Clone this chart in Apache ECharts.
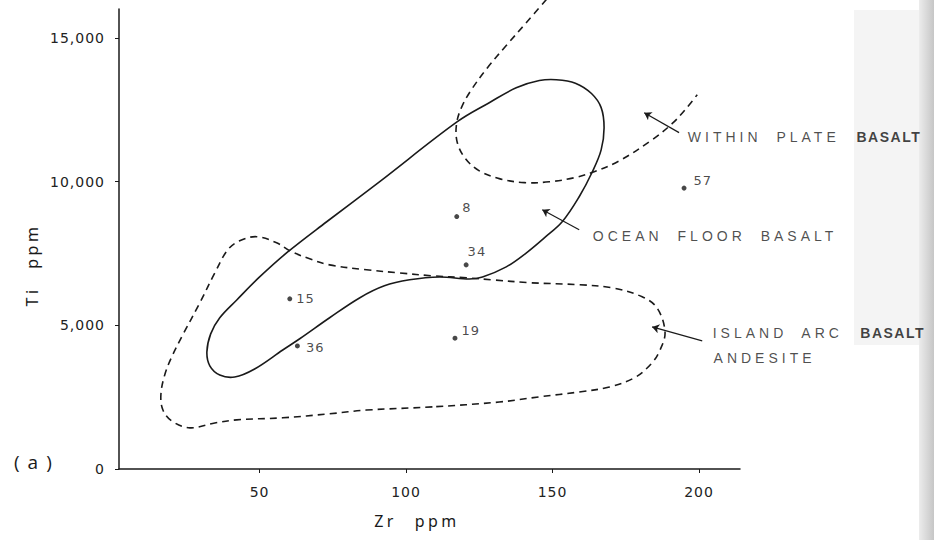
<!DOCTYPE html>
<html>
<head>
<meta charset="utf-8">
<script src="https://cdn.jsdelivr.net/npm/echarts@6/dist/echarts.min.js"></script>
<style>
html,body{margin:0;padding:0;background:#fff;}
#chart{width:934px;height:540px;}
#chart text[style*="Liberation Sans"]{letter-spacing:4px;word-spacing:7px;}
#chart text[style*="Liberation Sans"][style*="bold"]{letter-spacing:1.5px;}
#chart text[style*="DejaVu Sans"]{letter-spacing:1px;}
#chart text[style*="Noto Sans"]{letter-spacing:3.5px;word-spacing:10px;}
#chart text[style*="Open Sans"]{letter-spacing:8px;}
</style>
</head>
<body>
<div id="chart"></div>
<script>
// ---- tick values ----
const xTickValues = [50, 100, 150, 200];
const yTickValues = [0, 5000, 10000, 15000];

// ---- sample points ----
const sampleNames = ['15', '36', '8', '34', '19', '57'];
const sampleZr    = [60.3, 62.9, 117.3, 120.5, 116.7, 194.9];
const sampleTi    = [5920, 4280, 8780, 7100, 4550, 9770];

// ---- Ocean floor basalt field (solid, closed) ----
const oceanFloorZr = [90.9, 117.5, 128.4, 137.6, 145.5, 151.3, 157.8, 163.3, 166.6, 167.6, 166.6, 163.6, 159.1, 153.3, 147.2, 141.1, 134.2, 126.1, 121.6, 111.4, 101.2, 92.6, 84.1, 73.9, 63.7, 57.9, 48.3, 41.5, 36.4, 33.0, 32.0, 33.3, 36.4, 42.2, 50.0, 59.6, 72.9, 90.9];
const oceanFloorTi = [9990, 12080, 12740, 13260, 13510, 13540, 13420, 13060, 12570, 11870, 11100, 10340, 9470, 8600, 8040, 7520, 7030, 6680, 6610, 6680, 6580, 6370, 5950, 5260, 4530, 4140, 3480, 3200, 3270, 3590, 4070, 4700, 5260, 5880, 6680, 7550, 8600, 9990];

// ---- Within plate basalt boundary (dashed, open) ----
const withinPlateZr = [147.9, 141.1, 134.2, 127.8, 122.3, 118.9, 117.2, 117.5, 120.3, 125.0, 131.8, 140.4, 148.9, 157.4, 164.2, 172.8, 184.0, 190.8, 195.3, 199.4];
const withinPlateTi = [16330, 15530, 14730, 13960, 13190, 12570, 11980, 11350, 10790, 10370, 10100, 9960, 9990, 10130, 10340, 10720, 11450, 12010, 12500, 13020];

// ---- Island arc basalt field (dashed, closed) ----
const islandArcZr = [109.0, 86.5, 73.9, 57.9, 42.2, 34.7, 26.2, 20.0, 17.0, 16.3, 17.6, 20.0, 23.8, 29.6, 34.7, 39.1, 43.2, 49.0, 55.8, 60.3, 67.1, 73.9, 86.5, 97.8, 109.0, 120.6, 129.5, 142.1, 159.1, 170.4, 180.6, 185.7, 188.4, 186.7, 183.7, 177.9, 169.4, 159.1, 145.5, 131.8, 109.0];
const islandArcTi = [2160, 2050, 1920, 1780, 1710, 1600, 1430, 1670, 2050, 2580, 3270, 3900, 4670, 5780, 6820, 7620, 7940, 8080, 7870, 7590, 7310, 7100, 6930, 6820, 6720, 6650, 6580, 6480, 6410, 6300, 5990, 5600, 4770, 4140, 3660, 3170, 2850, 2680, 2510, 2330, 2160];

// ---- annotation texts ----
const annotationTexts = ['WITHIN PLATE', 'BASALT', 'OCEAN FLOOR BASALT', 'ISLAND ARC', 'BASALT', 'ANDESITE'];
const annotationZr    = [196.0, 253.6, 163.6, 204.5, 254.9, 204.8];
const annotationTi    = [11560, 11560, 8110, 4734, 4734, 3864];
const annotationBold  = [false, true, false, false, true, false];

// ---- annotation arrows (tail -> head) ----
const arrowTailZr = [193.2, 159.1, 201.1];
const arrowTailTi = [11700, 8320, 4456];
const arrowHeadZr = [181.3, 146.5, 184.0];
const arrowHeadTi = [12390, 9016, 4943];

// ---- label offsets for sample labels (style) ----
const sampleLabelOffset = {'15':[0,0], '36':[2,2], '8':[-1,-9], '34':[-5,-13], '19':[0,-8], '57':[3,-8]};

const zip = (a, b) => a.map((v, i) => [v, b[i]]);
const ink = '#1a1a1a';

// smooth field boundary drawn through the axis scales (api.coord)
function curveSeries(name, zr, ti, closed, dashed) {
  const pts = zip(zr, ti);
  return {
    name: name, type: 'custom', coordinateSystem: 'cartesian2d', clip: false,
    data: pts, encode: {x: 0, y: 1}, silent: true,
    renderItem: function (params, api) {
      if (params.dataIndex !== 0) return null;
      const px = pts.map(p => api.coord(p));
      const ring = closed ? px.slice(0, -1) : px;
      return {
        type: closed ? 'polygon' : 'polyline',
        shape: {points: ring, smooth: 0.36},
        style: {fill: 'none', stroke: ink, lineWidth: 1.6, lineDash: dashed ? [7, 5] : null}
      };
    }
  };
}

const chart = echarts.init(document.getElementById('chart'), null, {renderer: 'svg'});

const option = {
  animation: false,
  backgroundColor: '#ffffff',
  title: {
    text: '(a)', left: 9, top: 447,
    textStyle: {fontFamily: 'Open Sans', fontSize: 19, fontWeight: 'normal', color: '#1a1a1a'}
  },
  grid: {left: 119, right: 194, top: 9, bottom: 71},
  xAxis: {
    type: 'value', min: 2, max: 214,
    name: 'Zr ppm', nameLocation: 'middle', nameGap: 44,
    nameTextStyle: {fontFamily: 'Noto Sans', fontSize: 16, color: '#1a1a1a', padding: [0, 25, 0, 0]},
    axisLine: {show: true, onZero: false, lineStyle: {color: ink, width: 1.5}},
    axisTick: {show: true, length: 4, customValues: xTickValues, lineStyle: {color: ink, width: 1}},
    axisLabel: {show: true, customValues: xTickValues, margin: 16, fontFamily: 'DejaVu Sans', fontSize: 14, color: '#222'},
    splitLine: {show: false}
  },
  yAxis: {
    type: 'value', min: 0, max: 16000,
    name: 'Ti ppm', nameLocation: 'middle', nameGap: 79,
    nameTextStyle: {fontFamily: 'Noto Sans', fontSize: 16, color: '#1a1a1a', padding: [0, 52, 0, 0]},
    axisLine: {show: true, onZero: false, lineStyle: {color: ink, width: 1.5}},
    axisTick: {show: true, length: 4, customValues: yTickValues, lineStyle: {color: ink, width: 1}},
    axisLabel: {
      show: true, customValues: yTickValues, margin: 14,
      fontFamily: 'DejaVu Sans', fontSize: 14, color: '#222',
      formatter: v => v.toLocaleString('en-US')
    },
    splitLine: {show: false}
  },
  graphic: [
    {type: 'rect', z: -10, shape: {x: 854, y: 10, width: 66, height: 335}, style: {fill: '#f4f4f4'}},
    {type: 'rect', z: -10, shape: {x: 919, y: 0, width: 15, height: 540},
     style: {fill: new echarts.graphic.LinearGradient(0, 0, 1, 0, [{offset: 0, color: '#ececec'}, {offset: 1, color: '#c6c6c6'}])}}
  ],
  series: [
    curveSeries('Ocean floor basalt', oceanFloorZr, oceanFloorTi, true, false),
    curveSeries('Within plate basalt', withinPlateZr, withinPlateTi, false, true),
    curveSeries('Island arc basalt', islandArcZr, islandArcTi, true, true),
    {
      name: 'Samples', type: 'scatter', clip: false,
      data: sampleNames.map((n, i) => ({
        name: n, value: [sampleZr[i], sampleTi[i]],
        label: {offset: sampleLabelOffset[n]}
      })),
      symbolSize: 5, itemStyle: {color: ink},
      label: {show: true, position: 'right', distance: 4, formatter: p => p.name,
              fontFamily: 'DejaVu Sans', fontSize: 13, color: '#1a1a1a'}
    },
    {
      name: 'Arrows', type: 'lines', coordinateSystem: 'cartesian2d',
      symbol: ['none', 'arrow'], symbolSize: 7,
      lineStyle: {color: ink, width: 1.2, opacity: 1, curveness: 0},
      data: arrowTailZr.map((z, i) => ({coords: [[z, arrowTailTi[i]], [arrowHeadZr[i], arrowHeadTi[i]]]}))
    },
    {
      name: 'Annotations', type: 'scatter', clip: false,
      symbolSize: 1, itemStyle: {color: 'rgba(0,0,0,0)'},
      data: annotationTexts.map((t, i) => ({
        name: t, value: [annotationZr[i], annotationTi[i]],
        label: annotationBold[i] ? {fontWeight: 'bold', color: '#111'} : {}
      })),
      label: {show: true, position: 'right', distance: 0, formatter: p => p.name,
              fontFamily: 'Liberation Sans', fontSize: 14, color: '#1f1f1f'}
    }
  ]
};
chart.setOption(option);
</script>
</body>
</html>
